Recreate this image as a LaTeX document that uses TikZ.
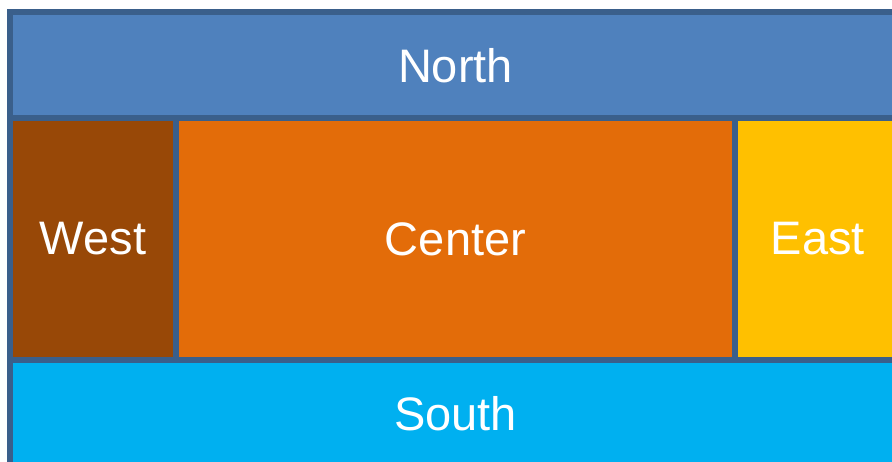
\documentclass[tikz,border=0pt]{standalone}
\usepackage{fontspec}
\setmainfont{Liberation Sans}
\definecolor{framec}{HTML}{3A5F8B}
\definecolor{northc}{HTML}{4F81BD}
\definecolor{westc}{HTML}{984807}
\definecolor{centerc}{HTML}{E36C09}
\definecolor{eastc}{HTML}{FFC000}
\definecolor{southc}{HTML}{00B0F0}
\begin{document}
\begin{tikzpicture}[x=1pt,y=-1pt,
  region/.style={draw=none,inner sep=0pt,outer sep=0pt,text=white,
    font=\fontsize{47}{56}\selectfont,anchor=north west}]
\useasboundingbox (0,0) rectangle (892,462);
\fill[framec] (7,9) rectangle (910,475);
\node[region,fill=northc,minimum width=885pt,minimum height=102pt] (north) at (13,15) {North};
\node[region,fill=westc,minimum width=160pt,minimum height=236pt] (west) at (13,121) {West};
\node[region,fill=centerc,minimum width=553pt,minimum height=236pt] (center) at (179,121) {Center};
\node[region,fill=eastc,minimum width=160pt,minimum height=236pt] (east) at (738,121) {East};
\node[region,fill=southc,minimum width=885pt,minimum height=102pt] (south) at (13,363) {South};
\fill[framec] (13,115) rectangle (910,121);
\end{tikzpicture}
\end{document}
